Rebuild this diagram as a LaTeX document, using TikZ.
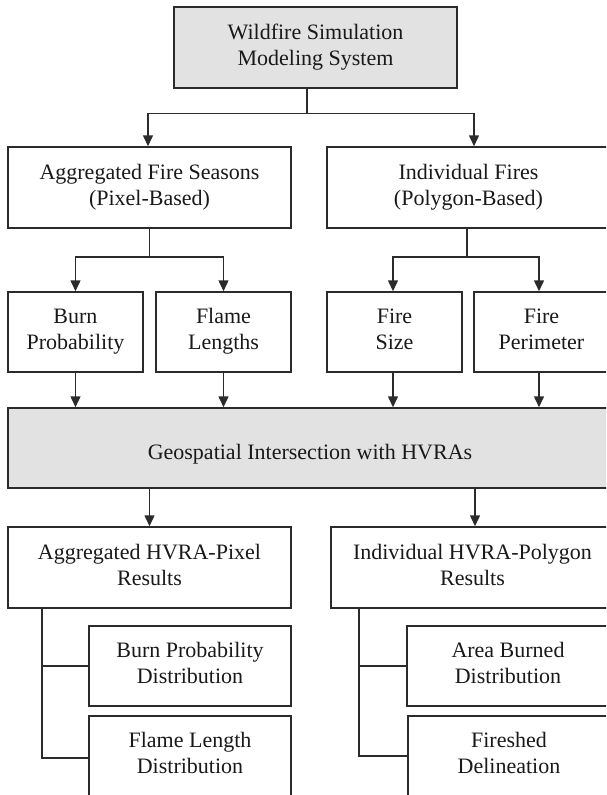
\documentclass[tikz,border=0pt]{standalone}
\usepackage{fontspec}
\setmainfont{Liberation Serif}
\usetikzlibrary{arrows.meta}
\definecolor{boxgray}{HTML}{E2E2E2}
\definecolor{edge}{HTML}{2B2B2B}
\tikzset{
  box/.style={draw=edge, line width=1.5pt, align=center, inner sep=0pt,
    font=\fontsize{22}{26}\selectfont, text=black!90,
    execute at begin node={\rule{0pt}{29pt}},
    execute at end node={\rule[-6pt]{0pt}{6pt}}},
  graybox/.style={box, fill=boxgray},
  link/.style={draw=edge, line width=1.5pt},
  arr/.style={link, -{Triangle[width=10pt,length=11pt]}}
}
\begin{document}
\begin{tikzpicture}[x=1pt,y=-1pt]
\useasboundingbox (0,0) rectangle (606,795);
\clip (0,0) rectangle (606,795);
% level 1
\node[graybox, minimum width=283pt, minimum height=81pt] (top) at (315.5,47.5) {Wildfire Simulation\\Modeling System};
% level 2
\node[box, minimum width=283pt, minimum height=81pt] (agg) at (149.5,187.5) {Aggregated Fire Seasons\\(Pixel-Based)};
\node[box, minimum width=283pt, minimum height=81pt] (ind) at (468.5,187.5) {Individual Fires\\(Polygon-Based)};
% level 3
\node[box, minimum width=135pt, minimum height=80pt] (burn) at (75.5,332) {Burn\\Probability};
\node[box, minimum width=135pt, minimum height=80pt] (flame) at (223.5,332) {Flame\\Lengths};
\node[box, minimum width=135pt, minimum height=80pt] (size) at (394.5,332) {Fire\\Size};
\node[box, minimum width=135pt, minimum height=80pt] (perim) at (541.5,332) {Fire\\Perimeter};
% geospatial
\node[graybox, minimum width=604pt, minimum height=80pt] (geo) at (310,448) {Geospatial Intersection with HVRAs};
% level 4
\node[box, minimum width=283pt, minimum height=81pt] (aggres) at (149.5,567.5) {Aggregated HVRA-Pixel\\Results};
\node[box, minimum width=283pt, minimum height=81pt] (indres) at (472.5,567.5) {Individual HVRA-Polygon\\Results};
% level 5
\node[box, minimum width=202pt, minimum height=80pt] (bpd) at (190,666) {Burn Probability\\Distribution};
\node[box, minimum width=202pt, minimum height=80pt] (fld) at (190,756) {Flame Length\\Distribution};
\node[box, minimum width=202pt, minimum height=80pt] (abd) at (508,666) {Area Burned\\Distribution};
\node[box, minimum width=202pt, minimum height=80pt] (fsd) at (509,756) {Fireshed\\Delineation};
% connectors level 1 -> 2
\draw[link] ([xshift=-8.5pt]top.south) -- ++(0,24.5) coordinate (j1);
\draw[arr] (j1) -| ([xshift=-1.5pt]agg.north);
\draw[arr] (j1) -| ([xshift=5.5pt]ind.north);
% level 2 -> 3
\draw[link] (agg.south) -- ++(0,28) coordinate (j2);
\draw[arr] (j2) -| (burn.north);
\draw[arr] (j2) -| (flame.north);
\draw[link] ([xshift=-1.5pt]ind.south) -- ++(0,28) coordinate (j3);
\draw[arr] (j3) -| ([xshift=-1.5pt]size.north);
\draw[arr] (j3) -| ([xshift=-2.5pt]perim.north);
% level 3 -> geo
\draw[arr] (burn.south) -- (burn.south |- geo.north);
\draw[arr] (flame.south) -- (flame.south |- geo.north);
\draw[arr] ([xshift=-1.5pt]size.south) -- ([xshift=-1.5pt]size.south |- geo.north);
\draw[arr] ([xshift=-2.5pt]perim.south) -- ([xshift=-2.5pt]perim.south |- geo.north);
% geo -> level 4
\draw[arr] (aggres.north |- geo.south) -- (aggres.north);
\draw[arr] ([xshift=2.5pt]indres.north |- geo.south) -- ([xshift=2.5pt]indres.north);
% trees
\draw[link] ([xshift=-107.5pt]aggres.south) |- (bpd.west);
\draw[link] ([xshift=-107.5pt]aggres.south) |- ([yshift=-2pt]fld.west);
\draw[link] ([xshift=-113.5pt]indres.south) |- (abd.west);
\draw[link] ([xshift=-113.5pt]indres.south) |- (fsd.west);
\end{tikzpicture}
\end{document}
